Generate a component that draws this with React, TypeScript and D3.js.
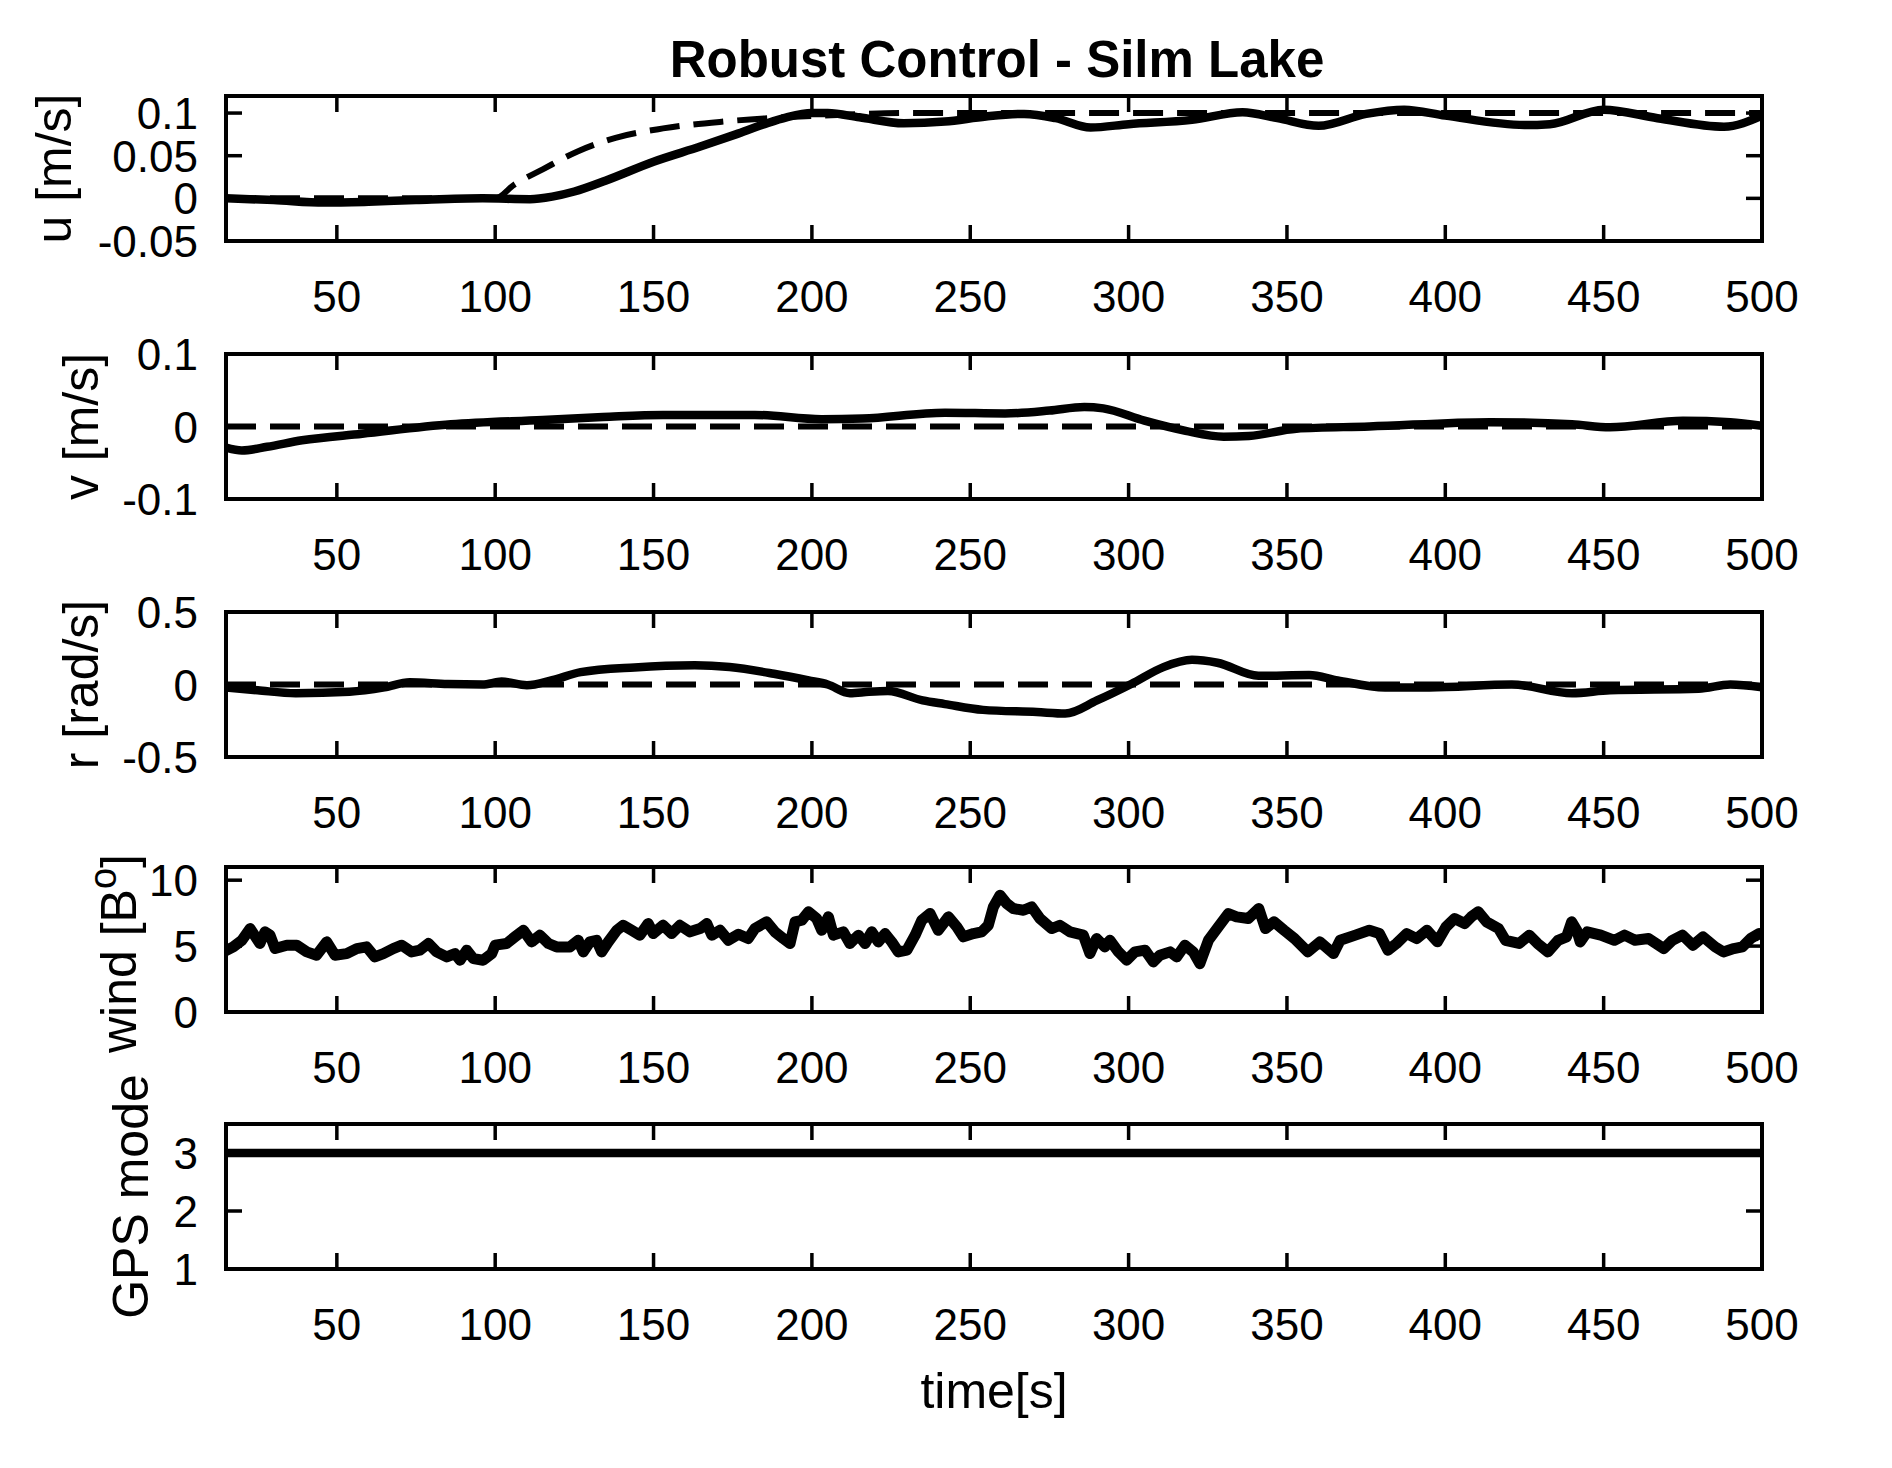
import * as d3 from 'd3';
import * as React from 'react';
import { useEffect, useRef } from 'react';

const WIDTH = 1892;
const HEIGHT = 1468;
const FONT = '"Liberation Sans", Arial, Helvetica, sans-serif';

// time axis
const timeDomain = [15, 500];
const timeTicks = [50, 100, 150, 200, 250, 300, 350, 400, 450, 500];

// surge speed u [m/s]: reference (dashed) and measured (solid)
const uRef: [number, number][] = [
  [15, 0], [100, 0], [106, 0.016], [115, 0.034], [126, 0.055], [138, 0.071],
  [153, 0.082], [172, 0.09], [191, 0.095], [210, 0.098], [230, 0.1], [500, 0.1],
];
const uMeas: [number, number][] = [
  [15, 0.0], [30, -0.002], [46, -0.005], [60, -0.004], [75, -0.002], [96, 0.0],
  [111, -0.001], [118, 0.002], [125, 0.008], [135, 0.021], [150, 0.043], [165, 0.061],
  [176, 0.075], [185, 0.087], [192, 0.095], [200, 0.1], [205, 0.1], [215, 0.095],
  [229, 0.088], [242, 0.09], [255, 0.096], [267, 0.099], [277, 0.094], [288, 0.083],
  [300, 0.087], [320, 0.092], [336, 0.101], [347, 0.094], [360, 0.085], [375, 0.099],
  [387, 0.104], [400, 0.097], [425, 0.086], [433, 0.087], [450, 0.104], [467, 0.094],
  [488, 0.084], [500, 0.097],
];

// sway speed v [m/s]
const vRef: [number, number][] = [[15, 0], [500, 0]];
const vMeas: [number, number][] = [
  [15, -0.029], [20, -0.033], [28, -0.028], [39, -0.019], [58, -0.01], [86, 0.003],
  [115, 0.009], [134, 0.013], [153, 0.016], [182, 0.016], [203, 0.01], [216, 0.011],
  [242, 0.019], [261, 0.018], [275, 0.022], [286, 0.027], [292, 0.025], [305, 0.008],
  [318, -0.006], [330, -0.014], [338, -0.013], [353, -0.003], [376, 0.0], [414, 0.006],
  [440, 0.003], [452, -0.001], [475, 0.008], [490, 0.006], [500, 0.001],
];

// yaw rate r [rad/s]
const rRef: [number, number][] = [[15, 0], [500, 0]];
const rMeas: [number, number][] = [
  [15, -0.02], [25, -0.04], [37, -0.06], [54, -0.05], [65, -0.02], [73, 0.015],
  [85, 0.003], [96, 0.0], [102, 0.02], [110, -0.005], [118, 0.03], [127, 0.085],
  [144, 0.118], [163, 0.132], [174, 0.12], [188, 0.074], [199, 0.028], [205, 0.0],
  [212, -0.06], [218, -0.05], [224, -0.045], [235, -0.11], [242, -0.135], [254, -0.175],
  [271, -0.19], [280, -0.2], [290, -0.11], [301, 0.005], [311, 0.12], [320, 0.17],
  [328, 0.15], [341, 0.06], [357, 0.065], [366, 0.028], [381, -0.02], [395, -0.02],
  [421, 0.0], [440, -0.06], [452, -0.04], [480, -0.03], [490, 0.0], [500, -0.02],
];

// wind [Beaufort]
const wind: [number, number][] = [
  [14.2, 4.56], [17.3, 4.94], [20, 5.44], [22.6, 6.33], [25.7, 5.2], [27.3, 6.08],
  [28.9, 5.83], [30.5, 4.81], [34.2, 5.07], [37.3, 5.07], [40.5, 4.56], [43.6, 4.31],
  [46.8, 5.32], [49.4, 4.31], [53.1, 4.43], [56.3, 4.81], [59.4, 4.94], [62, 4.18],
  [64.7, 4.43], [67.8, 4.81], [70.5, 5.07], [73.6, 4.56], [76.2, 4.69], [78.9, 5.2],
  [81.5, 4.56], [84.7, 4.18], [87.3, 4.43], [88.9, 3.93], [91, 4.69], [93.1, 4.05],
  [96.2, 3.93], [98.9, 4.43], [100, 5.07], [103.6, 5.2], [106.2, 5.7], [108.9, 6.2],
  [111.5, 5.32], [114.1, 5.83], [116.8, 5.2], [119.4, 4.94], [123.6, 4.94], [126.2, 5.44],
  [127.8, 4.56], [129.9, 5.32], [132, 5.44], [133.6, 4.56], [135.7, 5.32], [138.4, 6.2],
  [140.4, 6.58], [143.1, 6.2], [145.7, 5.83], [148.3, 6.71], [149.9, 5.95], [153, 6.58],
  [155.7, 5.95], [158.3, 6.58], [161.5, 6.08], [164.7, 6.33], [166.8, 6.71], [168.4, 5.83],
  [171, 6.2], [173.6, 5.44], [176.8, 5.9], [179.9, 5.57], [182, 6.33], [185.7, 6.84],
  [188.3, 6.08], [191, 5.57], [193.1, 5.2], [194.7, 6.84], [196.8, 6.96], [198.9, 7.6],
  [201.5, 7.09], [203.1, 6.2], [205.2, 7.22], [206.8, 5.83], [209.9, 6.08], [212, 5.2],
  [214.7, 5.83], [216.8, 5.2], [218.9, 6.08], [221, 5.32], [223.1, 5.95], [225.2, 5.32],
  [227.3, 4.56], [230, 4.69], [232.6, 5.83], [234.7, 6.96], [237.3, 7.47], [239.9, 6.2],
  [243.1, 7.22], [245.8, 6.45], [247.8, 5.7], [251, 5.95], [253.6, 6.08], [255.7, 6.58],
  [257.3, 7.97], [259.4, 8.86], [261.5, 8.23], [263.6, 7.85], [266.8, 7.72], [269.4, 7.97],
  [272, 7.09], [275.7, 6.33], [278.3, 6.58], [281.5, 6.08], [285.7, 5.83], [287.8, 4.43],
  [289.9, 5.57], [292.5, 4.94], [294.1, 5.44], [296.8, 4.56], [299.4, 3.93], [302, 4.56],
  [305.2, 4.69], [307.8, 3.8], [309.9, 4.31], [313.1, 4.56], [315.2, 4.18], [317.8, 5.07],
  [320.4, 4.56], [322.5, 3.67], [325.2, 5.44], [328.3, 6.45], [331.5, 7.47], [334.1, 7.22],
  [337.8, 7.09], [341.1, 7.85], [343.2, 6.33], [345.9, 6.84], [349.1, 6.2], [352.4, 5.57],
  [356.6, 4.56], [360.4, 5.32], [364.7, 4.43], [366.8, 5.44], [371.6, 5.83], [376, 6.2],
  [379.2, 5.95], [381.9, 4.69], [384.6, 5.2], [387.8, 5.95], [391, 5.57], [394.2, 6.2],
  [397.5, 5.32], [400.2, 6.45], [402.9, 7.09], [406.1, 6.71], [408.2, 7.22], [410.4, 7.6],
  [413, 6.84], [416.8, 6.33], [419, 5.44], [423.3, 5.2], [426.5, 5.83], [429.1, 5.2],
  [432.4, 4.56], [435.6, 5.44], [438.3, 5.7], [439.9, 6.84], [441.5, 6.2], [442.6, 5.32],
  [444.8, 6.08], [449.1, 5.83], [453.4, 5.44], [456.6, 5.83], [459.9, 5.44], [464.2, 5.57],
  [469, 4.81], [471.7, 5.44], [474.9, 5.83], [478.2, 5.07], [481.4, 5.7], [485.2, 4.94],
  [487.8, 4.56], [491.1, 4.81], [493.8, 4.94], [496.4, 5.57], [499.1, 5.95], [500, 5.57],
];

// GPS fix mode
const gpsMode: [number, number][] = [[15, 3], [500, 3]];

interface ISeries {
  data: [number, number][];
  dashed: boolean;
  smooth: boolean;
  width: number;
}

interface IPanel {
  top: number;
  yDomain: [number, number];
  yTicks: number[];
  yTickLabels: string[];
  label: string;
  sup?: string;
  labelTail?: string;
  labelX: number;
  labelShift: number;
  series: ISeries[];
}

const PLOT_LEFT = 226;
const PLOT_RIGHT = 1762;
const PLOT_H = 145;
const TICK = 16;

const panels: IPanel[] = [
  {
    top: 96, yDomain: [-0.05, 0.12], yTicks: [-0.05, 0, 0.05, 0.1],
    yTickLabels: ['-0.05', '0', '0.05', '0.1'], label: 'u [m/s]', labelX: 71, labelShift: 0,
    series: [
      { data: uMeas, dashed: false, smooth: true, width: 8.5 },
      { data: uRef, dashed: true, smooth: true, width: 6 },
    ],
  },
  {
    top: 354, yDomain: [-0.1, 0.1], yTicks: [-0.1, 0, 0.1],
    yTickLabels: ['-0.1', '0', '0.1'], label: 'v [m/s]', labelX: 98, labelShift: 0,
    series: [
      { data: vMeas, dashed: false, smooth: true, width: 8.5 },
      { data: vRef, dashed: true, smooth: false, width: 6 },
    ],
  },
  {
    top: 612, yDomain: [-0.5, 0.5], yTicks: [-0.5, 0, 0.5],
    yTickLabels: ['-0.5', '0', '0.5'], label: 'r [rad/s]', labelX: 98, labelShift: 0,
    series: [
      { data: rMeas, dashed: false, smooth: true, width: 8.5 },
      { data: rRef, dashed: true, smooth: false, width: 6 },
    ],
  },
  {
    top: 867, yDomain: [0, 11], yTicks: [0, 5, 10],
    yTickLabels: ['0', '5', '10'], label: 'wind [B', sup: 'o', labelTail: ']', labelX: 136, labelShift: 14,
    series: [{ data: wind, dashed: false, smooth: false, width: 11 }],
  },
  {
    top: 1124, yDomain: [1, 3.5], yTicks: [1, 2, 3],
    yTickLabels: ['1', '2', '3'], label: 'GPS mode', labelX: 148, labelShift: 0,
    series: [{ data: gpsMode, dashed: false, smooth: false, width: 8.5 }],
  },
];

export default function App() {
  const svgRef = useRef<SVGSVGElement | null>(null);

  useEffect(() => {
    document.body.style.margin = '0';
    const svg = d3.select(svgRef.current);
    svg.selectAll('*').remove();

    svg.append('rect').attr('width', WIDTH).attr('height', HEIGHT).attr('fill', '#fff');

    const x = d3.scaleLinear().domain(timeDomain).range([PLOT_LEFT, PLOT_RIGHT]);
    const g = svg.append('g').attr('font-family', FONT).attr('fill', '#000');

    panels.forEach((p, i) => {
      const bottom = p.top + PLOT_H;
      const y = d3.scaleLinear().domain(p.yDomain).range([bottom, p.top]);
      const pg = g.append('g');

      const clipId = 'clip-' + i;
      pg.append('clipPath').attr('id', clipId)
        .append('rect')
        .attr('x', PLOT_LEFT).attr('y', p.top)
        .attr('width', PLOT_RIGHT - PLOT_LEFT).attr('height', PLOT_H);

      // data
      p.series.forEach((s) => {
        const line = d3.line<[number, number]>()
          .x((d) => x(d[0]))
          .y((d) => y(d[1]))
          .curve(s.smooth ? d3.curveMonotoneX : d3.curveLinear);
        pg.append('path')
          .attr('clip-path', `url(#${clipId})`)
          .attr('d', line(s.data) || '')
          .attr('fill', 'none')
          .attr('stroke', '#000')
          .attr('stroke-width', s.width)
          .attr('stroke-linejoin', 'round')
          .attr('stroke-dasharray', s.dashed ? '30,14' : null);
      });

      // ticks on all four sides, pointing inward
      timeTicks.forEach((t) => {
        pg.append('line').attr('x1', x(t)).attr('x2', x(t)).attr('y1', bottom).attr('y2', bottom - TICK)
          .attr('stroke', '#000').attr('stroke-width', 3.5);
        pg.append('line').attr('x1', x(t)).attr('x2', x(t)).attr('y1', p.top).attr('y2', p.top + TICK)
          .attr('stroke', '#000').attr('stroke-width', 3.5);
        pg.append('text')
          .attr('x', x(t)).attr('y', bottom + 71)
          .attr('text-anchor', 'middle').attr('font-size', 44)
          .text(String(t));
      });

      p.yTicks.forEach((v, k) => {
        pg.append('line').attr('x1', PLOT_LEFT).attr('x2', PLOT_LEFT + TICK).attr('y1', y(v)).attr('y2', y(v))
          .attr('stroke', '#000').attr('stroke-width', 3.5);
        pg.append('line').attr('x1', PLOT_RIGHT).attr('x2', PLOT_RIGHT - TICK).attr('y1', y(v)).attr('y2', y(v))
          .attr('stroke', '#000').attr('stroke-width', 3.5);
        pg.append('text')
          .attr('x', 198).attr('y', y(v) + 16)
          .attr('text-anchor', 'end').attr('font-size', 44)
          .text(p.yTickLabels[k]);
      });

      // box
      pg.append('rect')
        .attr('x', PLOT_LEFT).attr('y', p.top)
        .attr('width', PLOT_RIGHT - PLOT_LEFT).attr('height', PLOT_H)
        .attr('fill', 'none').attr('stroke', '#000').attr('stroke-width', 4);

      // y label
      const cy = p.top + PLOT_H / 2 + p.labelShift;
      const lbl = pg.append('text')
        .attr('transform', `translate(${p.labelX},${cy}) rotate(-90)`)
        .attr('text-anchor', 'middle').attr('font-size', 50);
      lbl.append('tspan').text(p.label);
      if (p.sup) {
        lbl.append('tspan').attr('font-size', 38).attr('dy', -20).text(p.sup);
        lbl.append('tspan').attr('dy', 20).text(p.labelTail || '');
      }
    });

    g.append('text')
      .attr('x', 997).attr('y', 77)
      .attr('text-anchor', 'middle').attr('font-size', 51).attr('font-weight', 'bold')
      .text('Robust Control - Silm Lake');

    g.append('text')
      .attr('x', (PLOT_LEFT + PLOT_RIGHT) / 2).attr('y', 1408)
      .attr('text-anchor', 'middle').attr('font-size', 50)
      .text('time[s]');
  }, []);

  return <svg ref={svgRef} width={WIDTH} height={HEIGHT} style={{ display: 'block' }} />;
}
